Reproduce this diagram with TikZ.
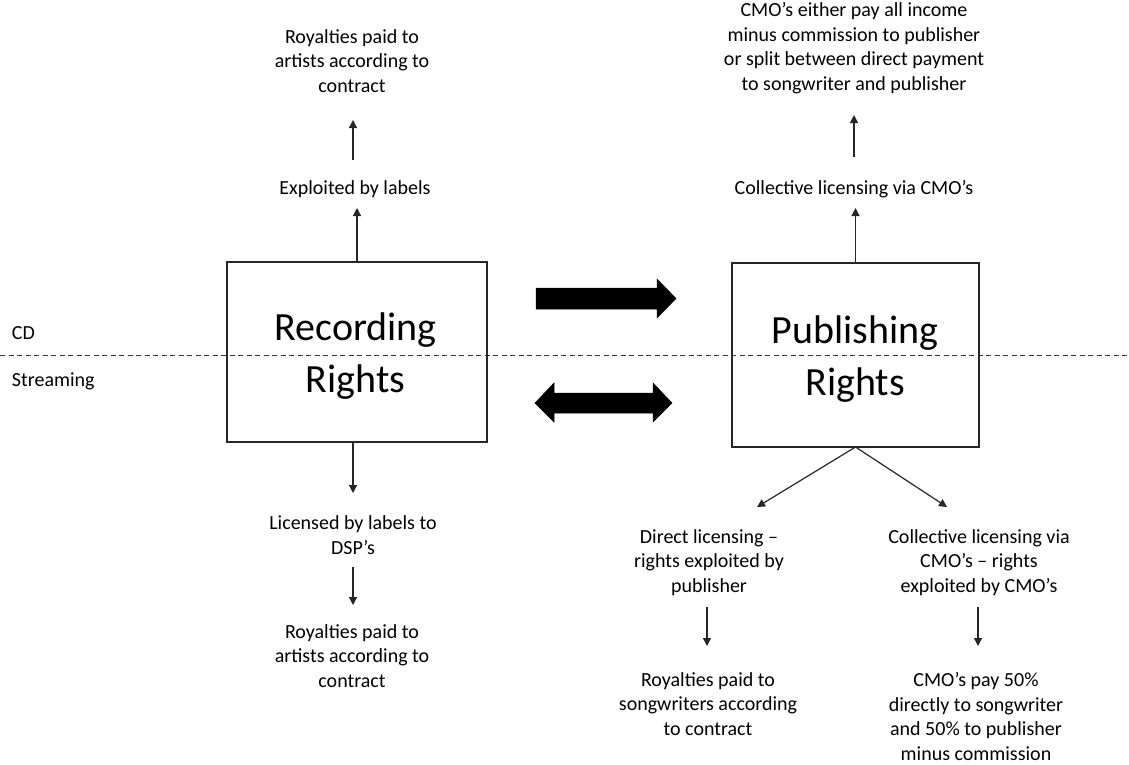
\documentclass[tikz,border=0pt]{standalone}
\usepackage{fontspec}
\setmainfont{Carlito}
\usetikzlibrary{calc,arrows.meta}
\tikzset{
  txt/.style={inner sep=0pt, outer sep=0pt, align=center, anchor=base, font=\fontsize{20}{24.4}\selectfont},
  sidetxt/.style={inner sep=0pt, outer sep=0pt, anchor=base west, font=\fontsize{20}{24.4}\selectfont},
  bigtxt/.style={inner sep=0pt, outer sep=0pt, align=center, anchor=base, font=\fontsize{40}{52}\selectfont},
  rightsbox/.style={draw=black!85, line width=1.3pt, inner sep=0pt, outer sep=0pt},
  arr/.style={draw=black!85, line width=1.2pt, -{Triangle[length=8pt,width=8pt]}},
  blockarrow/.style={fill=black, draw=black, line width=0.5pt, line join=miter},
  divider/.style={draw=black!80, line width=1pt, dash pattern=on 5pt off 3.5pt}
}
\begin{document}
\begin{tikzpicture}[x=1pt,y=-1pt]
\useasboundingbox (0,0) rectangle (1129,764);

% divider
\coordinate (dl) at (0,355);
\coordinate (dr) at (1129,355);
\draw[divider] (dl) -- (dr);
\node[sidetxt] (cd) at (12,339) {CD};
\node[sidetxt] (streaming) at (12,386) {Streaming};

% boxes
\node[rightsbox, minimum width=260pt, minimum height=180pt] (rec) at (357,352) {};
\node[bigtxt] (recT) at (355.5,392) {Recording\\Rights};
\node[rightsbox, minimum width=247pt, minimum height=184pt] (pub) at (855.5,355) {};
\node[bigtxt] (pubT) at (855,395) {Publishing\\Rights};

% left column
\node[txt] (royTop) at (352,92) {Royalties paid to\\artists according to\\contract};
\node[txt] (expl) at (355,194) {Exploited by labels};
\node[txt] (lic) at (353,554) {Licensed by labels to\\DSP’s};
\node[txt] (royBot) at (352,687) {Royalties paid to\\artists according to\\contract};

% right column
\node[txt] (cmoTop) at (854,90) {CMO’s either pay all income\\minus commission to publisher\\or split between direct payment\\to songwriter and publisher};
\node[txt] (coll) at (854,194) {Collective licensing via CMO’s};
\node[txt] (direct) at (709,592) {Direct licensing –\\rights exploited by\\publisher};
\node[txt] (collB) at (979,592) {Collective licensing via\\CMO’s – rights\\exploited by CMO’s};
\node[txt] (roySong) at (708,735) {Royalties paid to\\songwriters according\\to contract};
\node[txt] (cmoPay) at (976,760) {CMO’s pay 50\%\\directly to songwriter\\and 50\% to publisher\\minus commission};

% connectors left
\draw[arr] (rec.north) -- ($(expl.base)+(2,14)$);
\draw[arr] ($(expl.base)+(-2,-34)$) -- ($(royTop.base)+(1,28)$);
\draw[arr] (rec.south -| lic.base) -- ($(lic.base)+(0,-61)$);
\draw[arr] ($(lic.base)+(0,13)$) -- ($(royBot.base)+(1,-82)$);

% connectors right
\draw[arr] (pub.north) -- ($(coll.base)+(1.5,14)$);
\draw[arr] ($(coll.base)+(0,-37)$) -- ($(cmoTop.base)+(0,25)$);
\draw[arr] (pub.south) -- ($(direct.base)+(48,-85)$);
\draw[arr] (pub.south) -- ($(collB.base)+(-32,-85)$);
\draw[arr] ($(direct.base)+(-2,15)$) -- ($(roySong.base)+(-1,-89)$);
\draw[arr] ($(collB.base)+(-1,15)$) -- ($(cmoPay.base)+(2,-114)$);

% block arrows
\fill[blockarrow] (536,288) -- (657,288) -- (657,279) -- (676,298.5) -- (657,318) -- (657,309) -- (536,309) -- cycle;
\fill[blockarrow] (535,403) -- (554,383) -- (554,393) -- (653,393) -- (653,383) -- (672,403) -- (653,422) -- (653,413) -- (554,413) -- (554,422) -- cycle;
\end{tikzpicture}
\end{document}
